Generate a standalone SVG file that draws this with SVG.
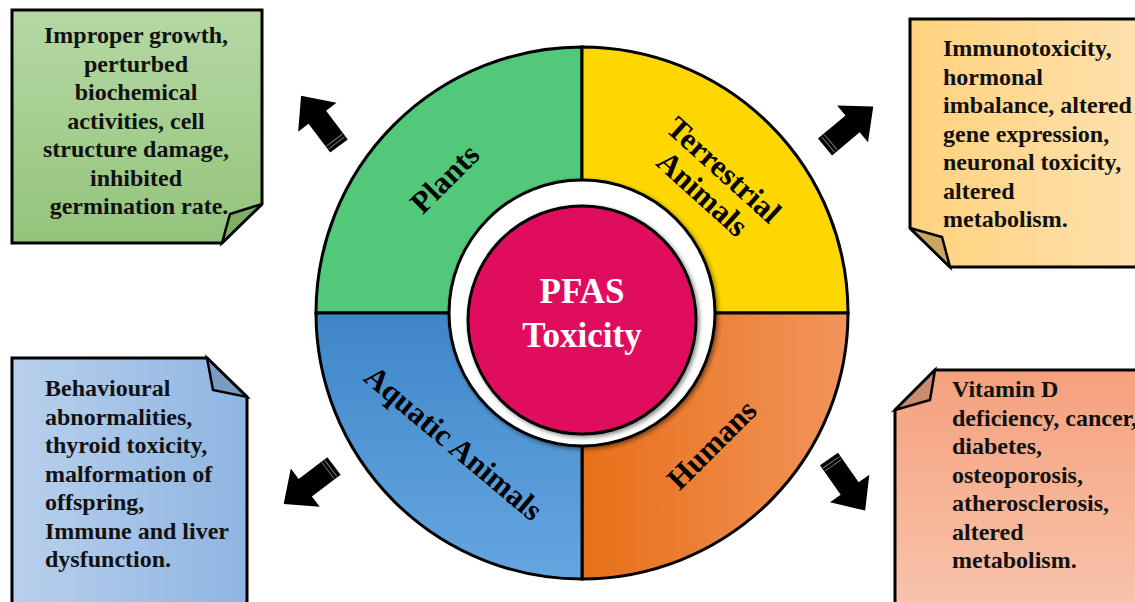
<svg xmlns="http://www.w3.org/2000/svg" width="1135" height="602" viewBox="0 0 1135 602">
<defs>
<linearGradient id="gGreen" x1="0" y1="0" x2="0" y2="1"><stop offset="0" stop-color="#B6D8A4"/><stop offset="1" stop-color="#93C47B"/></linearGradient>
<linearGradient id="gOrangeBox" x1="0" y1="0" x2="1" y2="0"><stop offset="0" stop-color="#FFD27C"/><stop offset="1" stop-color="#FFE1AE"/></linearGradient>
<linearGradient id="gBlueBox" x1="0" y1="0" x2="1" y2="0"><stop offset="0" stop-color="#B9D0EC"/><stop offset="1" stop-color="#8EB5E2"/></linearGradient>
<linearGradient id="gSalmon" x1="0" y1="0" x2="0" y2="1"><stop offset="0" stop-color="#F5A07D"/><stop offset="1" stop-color="#F8C4AC"/></linearGradient>
<linearGradient id="gBlueQ" x1="0" y1="0" x2="0" y2="1"><stop offset="0" stop-color="#3F87C9"/><stop offset="1" stop-color="#65A6E0"/></linearGradient>
<linearGradient id="gOrangeQ" x1="0" y1="0" x2="1" y2="0"><stop offset="0" stop-color="#E86F18"/><stop offset="1" stop-color="#F2955C"/></linearGradient>
<filter id="shadow" x="-10%" y="-10%" width="120%" height="120%"><feDropShadow dx="2" dy="2" stdDeviation="2" flood-color="#000" flood-opacity="0.45"/></filter>
<g id="arrow">
<polygon points="0,-11 36,-11 36,-24 63,0 36,24 36,11 0,11" fill="#000"/>
<line x1="4" y1="-10" x2="4" y2="10" stroke="#777" stroke-width="1"/>
<line x1="7.5" y1="-10" x2="7.5" y2="10" stroke="#777" stroke-width="1"/>
</g>
</defs>
<style>
.box{stroke:#000;stroke-width:3;stroke-linejoin:miter}
.fold{stroke:#000;stroke-width:2.5;stroke-linejoin:miter}
.note{font-family:"Liberation Serif","Times New Roman",serif;font-weight:bold;font-size:24px;fill:#111}
.seg{font-family:"Liberation Serif","Times New Roman",serif;font-weight:bold;font-size:31px;fill:#000;text-anchor:middle}
.quad{stroke:#000;stroke-width:3}
.center{font-family:"Liberation Serif","Times New Roman",serif;font-weight:bold;font-size:35px;fill:#fff;text-anchor:middle}
</style>
<rect width="1135" height="602" fill="#fff"/>

<g id="wheel">
<path class="quad" d="M582,313 L316,313 A266,266 0 0 1 582,47 Z" fill="#52C87A"/>
<path class="quad" d="M582,313 L582,47 A266,266 0 0 1 848,313 Z" fill="#FED700"/>
<path class="quad" d="M582,313 L848,313 A266,266 0 0 1 582,579 Z" fill="url(#gOrangeQ)"/>
<path class="quad" d="M582,313 L582,579 A266,266 0 0 1 316,313 Z" fill="url(#gBlueQ)"/>
<circle cx="582" cy="313" r="133" fill="#fff" stroke="#000" stroke-width="3" filter="url(#shadow)"/>
</g>

<g id="plants">
<text class="seg" transform="translate(452,186) rotate(-45)">Plants</text>
</g>
<g id="terrestrial">
<g transform="translate(713,182) rotate(42)">
<text class="seg" x="0" y="-6">Terrestrial</text>
<text class="seg" x="0" y="26">Animals</text>
</g>
</g>
<g id="humans">
<text class="seg" transform="translate(719,452) rotate(-45)">Humans</text>
</g>
<g id="aquatic">
<text class="seg" transform="translate(447,451) rotate(40)">Aquatic Animals</text>
</g>

<g id="pfas">
<circle cx="582" cy="320" r="114" fill="#E0115F" stroke="#000" stroke-width="3" filter="url(#shadow)"/>
<text class="center" x="582" y="303">PFAS</text>
<text class="center" x="582" y="347">Toxicity</text>
</g>

<g id="connectors">
<use href="#arrow" transform="translate(339,146) rotate(-127)"/>
<use href="#arrow" transform="translate(825,147) rotate(-40)"/>
<use href="#arrow" transform="translate(334,466) rotate(143)"/>
<use href="#arrow" transform="translate(829,459) rotate(55)"/>
</g>

<g id="box-plants">
<polygon class="box" points="12,10 262,10 262,204 222,243 12,243" fill="url(#gGreen)"/>
<polygon class="fold" points="262,204 230,214 222,243" fill="#7EAD66"/>
<text class="note" text-anchor="middle">
<tspan x="139" y="43">Improper growth,</tspan>
<tspan x="139" y="71.5">perturbed</tspan>
<tspan x="139" y="100">biochemical</tspan>
<tspan x="139" y="128.5">activities, cell</tspan>
<tspan x="139" y="157">structure damage,</tspan>
<tspan x="139" y="185.5">inhibited</tspan>
<tspan x="139" y="214">germination rate.</tspan>
</text>
</g>

<g id="box-terrestrial">
<polygon class="box" points="910,19 1140,19 1140,267 950,267 910,228" fill="url(#gOrangeBox)"/>
<polygon class="fold" points="910,228 942,237 950,267" fill="#CBA65F"/>
<text class="note">
<tspan x="943" y="56">Immunotoxicity,</tspan>
<tspan x="943" y="84.5">hormonal</tspan>
<tspan x="943" y="113">imbalance, altered</tspan>
<tspan x="943" y="141.5">gene expression,</tspan>
<tspan x="943" y="170">neuronal toxicity,</tspan>
<tspan x="943" y="198.5">altered</tspan>
<tspan x="943" y="227">metabolism.</tspan>
</text>
</g>

<g id="box-aquatic">
<polygon class="box" points="12,358 207,358 247,397 247,610 12,610" fill="url(#gBlueBox)"/>
<polygon class="fold" points="207,358 213,390 247,397" fill="#7A9CC4"/>
<text class="note">
<tspan x="45" y="396">Behavioural</tspan>
<tspan x="45" y="424.5">abnormalities,</tspan>
<tspan x="45" y="453">thyroid toxicity,</tspan>
<tspan x="45" y="481.5">malformation of</tspan>
<tspan x="45" y="510">offspring,</tspan>
<tspan x="45" y="538.5">Immune and liver</tspan>
<tspan x="45" y="567">dysfunction.</tspan>
</text>
</g>

<g id="box-humans">
<polygon class="box" points="935,370 1140,370 1140,610 895,610 895,410" fill="url(#gSalmon)"/>
<polygon class="fold" points="935,370 930,400 895,410" fill="#CB8B6E"/>
<text class="note">
<tspan x="952" y="397">Vitamin D</tspan>
<tspan x="952" y="425.5">deficiency, cancer,</tspan>
<tspan x="952" y="454">diabetes,</tspan>
<tspan x="952" y="482.5">osteoporosis,</tspan>
<tspan x="952" y="511">atherosclerosis,</tspan>
<tspan x="952" y="539.5">altered</tspan>
<tspan x="952" y="568">metabolism.</tspan>
</text>
</g>
</svg>
